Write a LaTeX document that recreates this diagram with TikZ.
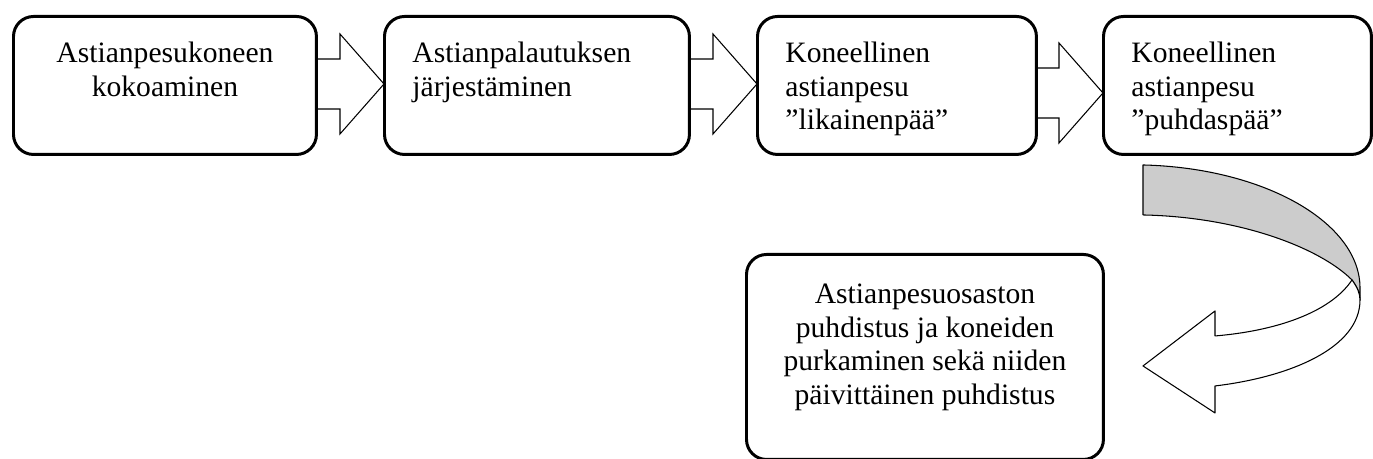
\documentclass[tikz,border=0pt]{standalone}
\usepackage{fontspec}
\setmainfont{Liberation Serif}
\usetikzlibrary{calc}
\tikzset{
	stagebox/.style={draw, line width=1.7pt, rounded corners=0.4cm, anchor=north west, inner xsep=0.56cm, inner ysep=0.46cm, font=\fontsize{16.85}{19}\selectfont},
	flowarrow/.style={draw, line width=0.6pt, line join=miter},
	twistband/.style={draw, line width=0.6pt, line join=round}
}
\def\blockarrow(#1)(#2)(#3){\draw[flowarrow] ($(#1.east)+(0,#3-25)$) -- ($(#2.west)+(-43,#3-25)$) -- ($(#2.west)+(-43,#3-50)$) -- ($(#2.west)+(1,#3)$) -- ($(#2.west)+(-43,#3+50)$) -- ($(#2.west)+(-43,#3+25)$) -- ($(#1.east)+(0,#3+25)$);}

\begin{document}
\begin{tikzpicture}[x=0.02cm, y=-0.02cm]
			%%%%% START %%%%%
			
			\useasboundingbox (0, 0) rectangle (1373, 459);
			
			\node[stagebox] (b1) at (12, 15) {\parbox[c][1.84cm][t]{4.94cm}{\centering\strut Astianpesukoneen\\kokoaminen}};
			\node[stagebox] (b2) at (383, 15) {\parbox[c][1.84cm][t]{4.98cm}{\raggedright\strut Astianpalautuksen\\järjestäminen}};
			\node[stagebox] (b3) at (756, 15) {\parbox[c][1.84cm][t]{4.46cm}{\raggedright\strut Koneellinen\\astianpesu\\”likainenpää”}};
			\node[stagebox] (b4) at (1102, 15) {\parbox[c][1.84cm][t]{4.24cm}{\raggedright\strut Koneellinen\\astianpesu\\”puhdaspää”}};
			
			\node[stagebox, inner ysep=0.52cm] (b5) at (745, 253) {\parbox[c][3.06cm][t]{6.02cm}{\centering\strut Astianpesuosaston\\puhdistus ja koneiden\\purkaminen sekä niiden\\päivittäinen puhdistus}};
			
			\blockarrow(b1)(b2)(-1.5)
			\blockarrow(b2)(b3)(-1.5)
			\blockarrow(b3)(b4)(7.5)
			
			\coordinate (bend) at ($(b4.south west)+(41, 9)$);
			\begin{scope}[shift={(bend)}]
				\draw[twistband, fill=black!20] (0, 0) .. controls (122, 3) and (217, 58) .. (217, 123) -- (217, 135) .. controls (217, 128) and (214, 122) .. (209, 115) .. controls (177, 83) and (97, 52) .. (0, 50) -- cycle;
				\draw[twistband, fill=white] (209, 115) .. controls (214, 122) and (217, 128) .. (217, 135) .. controls (217, 183) and (147, 212) .. (72, 221) -- (72, 248) -- (0, 201) -- (72, 146) -- (72, 171) .. controls (132, 166) and (187, 148) .. (209, 115) -- cycle;
			\end{scope}
			
			%%%%% END %%%%%
\end{tikzpicture}
\end{document}
